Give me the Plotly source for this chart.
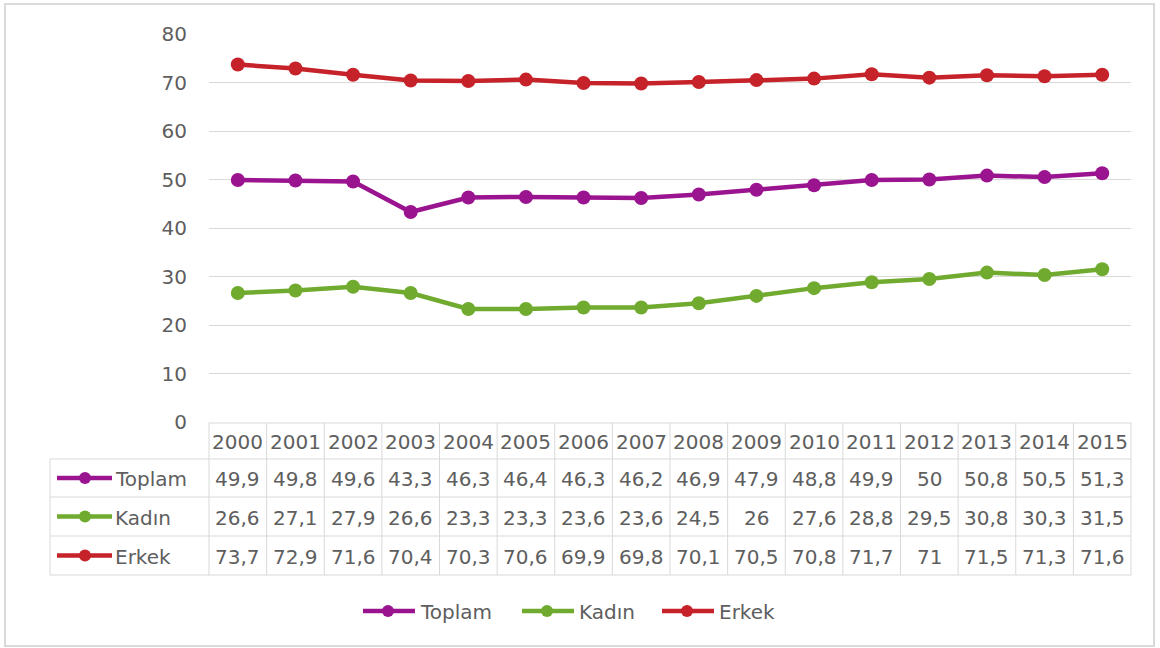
import plotly.graph_objects as go

# ---------------- data ----------------
years = [str(y) for y in range(2000, 2016)]
toplam = [49.9, 49.8, 49.6, 43.3, 46.3, 46.4, 46.3, 46.2, 46.9, 47.9, 48.8, 49.9, 50, 50.8, 50.5, 51.3]
kadin = [26.6, 27.1, 27.9, 26.6, 23.3, 23.3, 23.6, 23.6, 24.5, 26, 27.6, 28.8, 29.5, 30.8, 30.3, 31.5]
erkek = [73.7, 72.9, 71.6, 70.4, 70.3, 70.6, 69.9, 69.8, 70.1, 70.5, 70.8, 71.7, 71, 71.5, 71.3, 71.6]
series_names = ["Toplam", "Kadın", "Erkek"]
series_values = [toplam, kadin, erkek]
y_ticks = [0, 10, 20, 30, 40, 50, 60, 70, 80]

# ---------------- style ----------------
colors = ["#9A1490", "#70AB30", "#C62229"]
FONT = "DejaVu Sans"
TXT = "#5E5E5E"
GRID = "#D9D9D9"
FS = 20
W, H = 1160, 648
PL, PR, PT, PB = 209, 1131, 34, 422      # plot area in pixels
row_edges = [PB + 1, 459, 497, 536, 575]  # table row boundaries (header + 3 rows)
LABEL_LEFT = 50

ncol = len(years)
colw = (PR - PL) / ncol


def fmt(v):
    s = ("%g" % v)
    return s.replace(".", ",")


fig = go.Figure()

# main line traces
for name, vals, c in zip(series_names, series_values, colors):
    fig.add_trace(go.Scatter(
        x=years, y=vals, name=name, mode="lines+markers",
        line=dict(color=c, width=4.5), marker=dict(color=c, size=14),
        xaxis="x", yaxis="y", showlegend=False))

shapes = []
annotations = []

# outer frame
shapes.append(dict(type="rect", xref="x2", yref="y2", x0=5, x1=1154, y0=4, y1=646,
                   line=dict(color=GRID, width=2), fillcolor="rgba(0,0,0,0)", layer="below"))

# ---- data table ----
tbl_line = dict(color=GRID, width=1)
shapes.append(dict(type="line", xref="x2", yref="y2", x0=PL, x1=PR, y0=row_edges[0], y1=row_edges[0], line=tbl_line))
for ye in row_edges[1:]:
    shapes.append(dict(type="line", xref="x2", yref="y2", x0=LABEL_LEFT, x1=PR, y0=ye, y1=ye, line=tbl_line))
for i in range(ncol + 1):
    xv = PL + i * colw
    shapes.append(dict(type="line", xref="x2", yref="y2", x0=xv, x1=xv,
                       y0=row_edges[0], y1=row_edges[-1], line=tbl_line))
shapes.append(dict(type="line", xref="x2", yref="y2", x0=LABEL_LEFT, x1=LABEL_LEFT,
                   y0=row_edges[1], y1=row_edges[-1], line=tbl_line))

hy = (row_edges[0] + row_edges[1]) / 2 + 1
for i, yr in enumerate(years):
    annotations.append(dict(xref="x2", yref="y2", x=PL + (i + 0.5) * colw, y=hy, text=yr,
                            showarrow=False, font=dict(family=FONT, size=FS, color=TXT),
                            xanchor="center", yanchor="middle"))
for r, (name, vals, c) in enumerate(zip(series_names, series_values, colors)):
    cy = (row_edges[r + 1] + row_edges[r + 2]) / 2 + 1
    for i, v in enumerate(vals):
        annotations.append(dict(xref="x2", yref="y2", x=PL + (i + 0.5) * colw, y=cy, text=fmt(v),
                                showarrow=False, font=dict(family=FONT, size=FS, color=TXT),
                                xanchor="center", yanchor="middle"))
    fig.add_trace(go.Scatter(x=[57, 112], y=[cy - 1, cy - 1], mode="lines", line=dict(color=c, width=4.5),
                             xaxis="x2", yaxis="y2", showlegend=False, hoverinfo="skip"))
    fig.add_trace(go.Scatter(x=[85], y=[cy - 1], mode="markers", marker=dict(color=c, size=12),
                             xaxis="x2", yaxis="y2", showlegend=False, hoverinfo="skip"))
    annotations.append(dict(xref="x2", yref="y2", x=113, y=cy, text=name, showarrow=False,
                            font=dict(family=FONT, size=FS, color=TXT), xanchor="left", yanchor="middle"))

# ---- bottom legend ----
leg_x = [363, 522, 662]
leg_y = 611
for name, c, lx in zip(series_names, colors, leg_x):
    fig.add_trace(go.Scatter(x=[lx, lx + 52], y=[leg_y, leg_y], mode="lines", line=dict(color=c, width=4.5),
                             xaxis="x2", yaxis="y2", showlegend=False, hoverinfo="skip"))
    fig.add_trace(go.Scatter(x=[lx + 25], y=[leg_y], mode="markers", marker=dict(color=c, size=12),
                             xaxis="x2", yaxis="y2", showlegend=False, hoverinfo="skip"))
    annotations.append(dict(xref="x2", yref="y2", x=lx + 55, y=leg_y + 1, text=name, showarrow=False,
                            font=dict(family=FONT, size=FS, color=TXT), xanchor="left", yanchor="middle"))

fig.update_layout(
    template="none",
    width=W, height=H,
    margin=dict(l=0, r=0, t=0, b=0, pad=0, autoexpand=False),
    paper_bgcolor="white", plot_bgcolor="rgba(0,0,0,0)",
    xaxis=dict(domain=[PL / W, PR / W], type="category", range=[-0.5, ncol - 0.5],
               showticklabels=False, showgrid=False, zeroline=False, showline=False, ticks="",
               anchor="y", automargin=False),
    yaxis=dict(domain=[1 - PB / H, 1 - PT / H], range=[0, 80], tickvals=y_ticks,
               showgrid=True, gridcolor=GRID, gridwidth=1, zeroline=False, showline=False,
               ticks="", ticklabelstandoff=21, automargin=False,
               tickfont=dict(family=FONT, size=FS, color=TXT), anchor="x"),
    xaxis2=dict(domain=[0, 1], range=[0, W], visible=False, anchor="y2", fixedrange=True, automargin=False),
    yaxis2=dict(domain=[0, 1], range=[H, 0], visible=False, anchor="x2", fixedrange=True, automargin=False),
    shapes=shapes, annotations=annotations,
    showlegend=False,
)

fig.write_html("out.html")
